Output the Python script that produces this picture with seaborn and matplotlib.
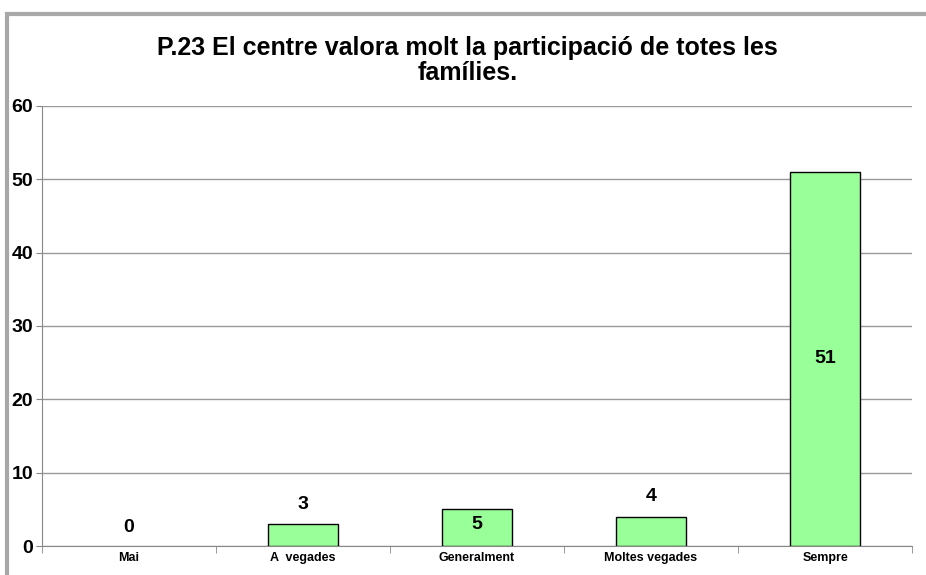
import numpy as np
import pandas as pd
import seaborn as sns
import matplotlib.pyplot as plt
from matplotlib.patches import Rectangle

# chart data
categories = ['Mai', 'A  vegades', 'Generalment', 'Moltes vegades', 'Sempre']
counts = [0, 3, 5, 4, 51]
label_y = [2.5, 5.6, 3.0, 6.7, 25.5]  # where Excel put the value labels
title = 'P.23 El centre valora molt la participació de totes les\nfamílies.'

df = pd.DataFrame({'cat': categories, 'n': counts})

sns.set_style('white')
plt.rcParams['font.family'] = ['Liberation Sans', 'DejaVu Sans']
plt.rcParams['text.color'] = 'black'

fig = plt.figure(figsize=(9.26, 5.75), dpi=100)
ax = fig.add_axes([0.045, 0.0504, 0.94, 0.7653])

# outer chart frame (grey border like the spreadsheet)
frame = Rectangle((0.008, -0.01), 1.0, 0.985, transform=fig.transFigure,
                  fill=False, edgecolor='#a8a8a8', linewidth=3, zorder=0)
fig.patches.append(frame)

sns.barplot(data=df, x='cat', y='n', ax=ax, color='#99ff99', saturation=1,
            edgecolor='black', linewidth=1, width=0.4, zorder=3)
for p in ax.patches:
    if p.get_height() == 0:
        p.set_linewidth(0)  # no outline for the empty "Mai" bar

ax.set_ylim(0, 60)
ax.set_xlim(-0.5, 4.5)
ax.set_yticks(range(0, 61, 10))
ax.yaxis.grid(True, color='#999999', linewidth=1)
ax.set_axisbelow(True)
for s in ['top', 'right']:
    ax.spines[s].set_visible(False)
ax.spines['left'].set_color('#888888')
ax.spines['bottom'].set_color('#888888')

ax.tick_params(axis='y', labelsize=14, length=4, left=True, color='#888888',
               pad=2, labelcolor='black')
for t in ax.get_yticklabels():
    t.set_fontweight('bold')
ax.tick_params(axis='x', labelsize=9, length=0, pad=4, labelcolor='black')
for t in ax.get_xticklabels():
    t.set_fontweight('bold')
# tick marks between categories
ax.set_xticks(np.arange(-0.5, 5, 1), minor=True)
ax.tick_params(axis='x', which='minor', length=5, bottom=True, color='#888888')

for i, (v, yy) in enumerate(zip(counts, label_y)):
    ax.text(i, yy, str(v), ha='center', va='center', fontsize=14, fontweight='bold')

ax.set_xlabel('')
ax.set_ylabel('')
fig.text(0.505, 0.895, title, ha='center', va='center', fontsize=18,
         fontweight='bold', linespacing=1.05)

fig.savefig('out.png', dpi=100)
